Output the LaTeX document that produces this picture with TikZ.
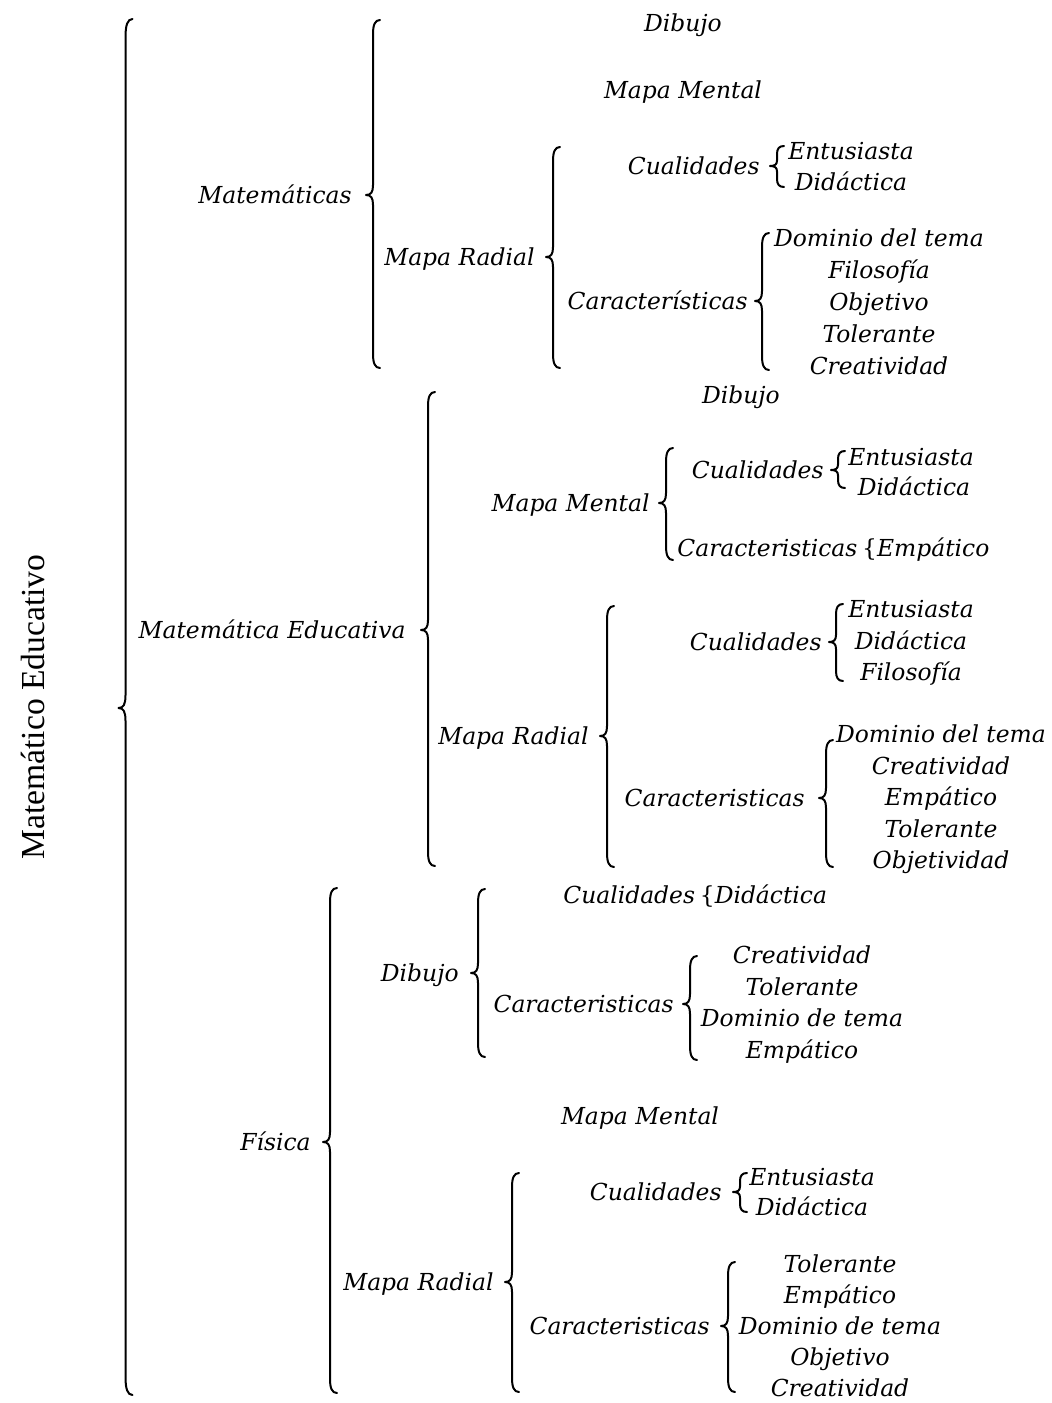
\documentclass[tikz,border=0pt]{standalone}
\usepackage{fontspec}
\newfontfamily\titlefont{Liberation Serif}
\newfontfamily\labelfont{DejaVu Serif}

% tall curly brace: [curl length]{x}{top}{tip}{bottom}, tip pointing left
\newcommand{\curly}[5][14]{%
  \draw[curlybr] ({#2+7},#3) .. controls ({#2+2},#3) and (#2,{#3+#1*0.35}) .. (#2,{#3+#1})
    -- (#2,{#4-#1*0.7}) .. controls (#2,{#4-#1*0.2}) and ({#2-2},#4) .. ({#2-7},#4)
    .. controls ({#2-2},#4) and (#2,{#4+#1*0.2}) .. (#2,{#4+#1*0.7})
    -- (#2,{#5-#1}) .. controls (#2,{#5-#1*0.35}) and ({#2+2},#5) .. ({#2+7},#5);}

\begin{document}
\begin{tikzpicture}[x=0.5pt,y=-0.5pt,
  txt/.style={font=\labelfont\itshape\fontsize{11.7}{14}\selectfont, inner sep=0pt, text height=8.5pt, text depth=0pt},
  lbl/.style={txt, anchor=east},
  leaf/.style={txt, anchor=center},
  curlybr/.style={line width=1pt, line cap=round, line join=round}]
\useasboundingbox (0,0) rectangle (1051,1403);

% root
\node[rotate=90, inner sep=0pt, font=\titlefont\fontsize{16.8}{20}\selectfont] (title) at (33,707) {Matemático Educativo};
\curly[18]{125.5}{19}{708}{1395}

% --- Matemáticas ---
\node[lbl] (mat) at (352,195) {Matemáticas};
\curly{373}{20}{195}{368}
\node[leaf] (mat-dib) at (683,23) {Dibujo};
\node[leaf] (mat-mm) at (683,90) {Mapa Mental};
\node[lbl] (mat-mr) at (535,257) {Mapa Radial};
\curly{553}{147}{257}{368}
\node[lbl] (mat-cual) at (760,166) {Cualidades};
\curly[8]{777}{146}{166}{187}
\node[leaf] (mat-cual-a) at (851,151) {Entusiasta};
\node[leaf] (mat-cual-b) at (851,182) {Didáctica};
\node[lbl] (mat-car) at (748,301) {Características};
\curly{762}{233}{301}{370}
\node[leaf] (mat-car-a) at (879,238) {Dominio del tema};
\node[leaf] (mat-car-b) at (879,270) {Filosofía};
\node[leaf] (mat-car-c) at (879,302) {Objetivo};
\node[leaf] (mat-car-d) at (879,334) {Tolerante};
\node[leaf] (mat-car-e) at (879,366) {Creatividad};

% --- Matemática Educativa ---
\node[lbl] (med) at (406,630) {Matemática Educativa};
\curly{428}{392}{630}{866}
\node[leaf] (med-dib) at (741,395) {Dibujo};
\node[lbl] (med-mm) at (650,503) {Mapa Mental};
\curly{666}{448}{503}{560}
\node[lbl] (med-mm-cual) at (824,470) {Cualidades};
\curly[8]{838}{451}{470}{488}
\node[leaf] (med-mm-cual-a) at (911,457) {Entusiasta};
\node[leaf] (med-mm-cual-b) at (914,487) {Didáctica};
\node[txt, anchor=west] (med-mm-car) at (677,548) {Caracteristicas};
\node[txt, anchor=west] (med-mm-car-a) at ([xshift=2pt]med-mm-car.east) {{\upshape\{}Empático};
\node[lbl] (med-mr) at (589,736) {Mapa Radial};
\curly{607}{606}{736}{867}
\node[lbl] (med-mr-cual) at (822,642) {Cualidades};
\curly[10]{836}{604}{642}{681}
\node[leaf] (med-mr-cual-a) at (911,609) {Entusiasta};
\node[leaf] (med-mr-cual-b) at (911,641) {Didáctica};
\node[leaf] (med-mr-cual-c) at (911,672) {Filosofía};
\node[lbl] (med-mr-car) at (805,798) {Caracteristicas};
\curly{826}{740}{798}{867}
\node[leaf] (med-mr-car-a) at (941,734) {Dominio del tema};
\node[leaf] (med-mr-car-b) at (941,766) {Creatividad};
\node[leaf] (med-mr-car-c) at (941,797) {Empático};
\node[leaf] (med-mr-car-d) at (941,829) {Tolerante};
\node[leaf] (med-mr-car-e) at (941,860) {Objetividad};

% --- Física ---
\node[lbl] (fis) at (311,1142) {Física};
\curly{330}{888}{1142}{1393}
\node[txt, anchor=west] (fis-dib-cual) at (563,895) {Cualidades};
\node[txt, anchor=west] (fis-dib-cual-a) at ([xshift=2pt]fis-dib-cual.east) {{\upshape\{}Didáctica};
\node[lbl] (fis-dib) at (459,973) {Dibujo};
\curly{478}{889}{973}{1057}
\node[lbl] (fis-dib-car) at (674,1004) {Caracteristicas};
\curly{690}{956}{1004}{1060}
\node[leaf] (fis-dib-car-a) at (802,955) {Creatividad};
\node[leaf] (fis-dib-car-b) at (802,987) {Tolerante};
\node[leaf] (fis-dib-car-c) at (802,1018) {Dominio de tema};
\node[leaf] (fis-dib-car-d) at (802,1050) {Empático};
\node[leaf] (fis-mm) at (640,1116) {Mapa Mental};
\node[lbl] (fis-mr) at (494,1282) {Mapa Radial};
\curly{512}{1173}{1282}{1392}
\node[lbl] (fis-mr-cual) at (722,1192) {Cualidades};
\curly[8]{740}{1173}{1192}{1212}
\node[leaf] (fis-mr-cual-a) at (812,1177) {Entusiasta};
\node[leaf] (fis-mr-cual-b) at (812,1207) {Didáctica};
\node[lbl] (fis-mr-car) at (710,1326) {Caracteristicas};
\curly{728}{1262}{1326}{1392}
\node[leaf] (fis-mr-car-a) at (840,1264) {Tolerante};
\node[leaf] (fis-mr-car-b) at (840,1295) {Empático};
\node[leaf] (fis-mr-car-c) at (840,1326) {Dominio de tema};
\node[leaf] (fis-mr-car-d) at (840,1357) {Objetivo};
\node[leaf] (fis-mr-car-e) at (840,1388) {Creatividad};
\end{tikzpicture}
\end{document}
